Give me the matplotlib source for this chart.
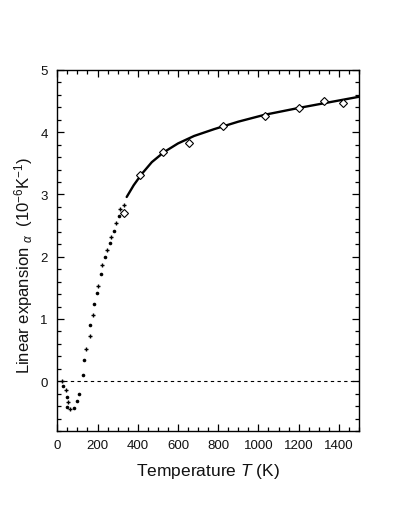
import matplotlib
matplotlib.use("Agg")
import matplotlib.pyplot as plt
from matplotlib.ticker import MultipleLocator

plt.rcParams['font.family'] = ['Liberation Sans', 'DejaVu Sans']
plt.rcParams['mathtext.fontset'] = 'custom'
plt.rcParams['mathtext.rm'] = 'Liberation Sans'
plt.rcParams['mathtext.it'] = 'Liberation Sans:italic'
plt.rcParams['mathtext.sf'] = 'Liberation Sans'

# Low-temperature data, filled dots
dots_T = [28, 47, 50, 81, 98, 110, 126, 133, 163, 184, 199, 216, 236, 260, 280, 308]
dots_a = [-0.075, -0.25, -0.41, -0.43, -0.31, -0.20, 0.10, 0.34, 0.905, 1.24,
          1.41, 1.72, 1.99, 2.22, 2.42, 2.65]

# Low-temperature data, small crosses
cross_T = [23, 43, 51, 65, 141, 161, 179, 204, 224, 247, 267, 292, 310, 332]
cross_a = [0.0, -0.145, -0.34, -0.45, 0.51, 0.72, 1.06, 1.53, 1.865, 2.11,
           2.31, 2.535, 2.76, 2.825]

# High-temperature data, open diamonds
diam_T = [332, 413, 527, 656, 822, 1031, 1202, 1326, 1419]
diam_a = [2.71, 3.32, 3.69, 3.83, 4.10, 4.26, 4.39, 4.50, 4.47]

# Fitted curve
curve_T = [345, 380, 420, 470, 530, 600, 680, 780, 900, 1030, 1200, 1350, 1500]
curve_a = [2.96, 3.15, 3.33, 3.52, 3.68, 3.82, 3.94, 4.05, 4.17, 4.28, 4.39, 4.48, 4.57]

fig = plt.figure(figsize=(3.96, 5.10), dpi=100)
ax = fig.add_axes([57.3/396, 1-432/510, (359-57.3)/396, (432-71)/510])

ax.axhline(0, color='black', lw=0.8, ls=(0, (3, 3)))
ax.plot(curve_T, curve_a, color='black', lw=1.7, solid_capstyle='round')
ax.plot(dots_T, dots_a, 'o', color='black', ms=2.6, mew=0)
ax.plot(cross_T, cross_a, '+', color='black', ms=3.2, mew=1.0)
ax.plot(diam_T, diam_a, 'D', mfc='white', mec='black', ms=4.2, mew=0.8)

ax.set_xlim(0, 1500)
ax.set_ylim(-0.8, 5)
ax.xaxis.set_major_locator(MultipleLocator(200))
ax.xaxis.set_minor_locator(MultipleLocator(50))
ax.yaxis.set_major_locator(MultipleLocator(1))
ax.yaxis.set_minor_locator(MultipleLocator(0.2))
ax.tick_params(which='both', direction='in', top=True, right=True,
               labelsize=9.5, width=0.9, labelcolor='#111111')
ax.tick_params(which='major', length=5)
ax.tick_params(which='minor', length=3)
ax.tick_params(axis='x', pad=6)
ax.tick_params(axis='y', pad=7)
for s in ax.spines.values():
    s.set_linewidth(1.0)

ax.set_xlabel(r'Temperature $\it{T}$ (K)', fontsize=12.5, labelpad=7, color='#111111')
fig.text(24/396, 1-265/510,
         r'Linear expansion $_{\alpha}$  (10$^{-6}$K$^{-1}$)',
         rotation=90, ha='center', va='center', fontsize=12, color='#111111')

fig.savefig('out.png', dpi=100)
